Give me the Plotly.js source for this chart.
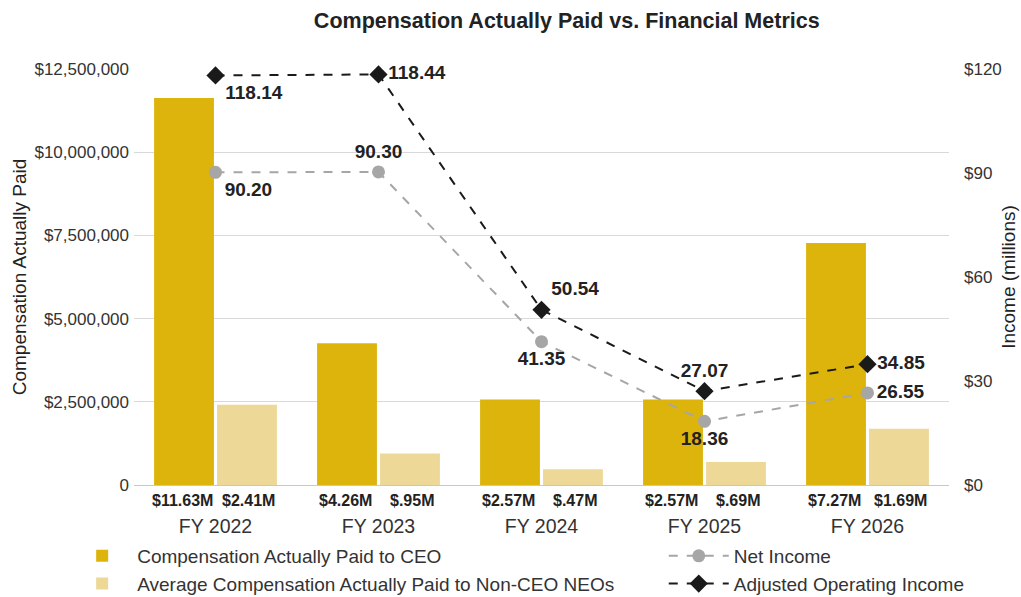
<!DOCTYPE html>
<html>
<head>
<meta charset="utf-8">
<script src="https://cdn.plot.ly/plotly-3.0.1.min.js"></script>
<style>html,body{margin:0;padding:0;background:#fff;}#chart{width:1021px;height:597px;}</style>
</head>
<body>
<div id="chart"></div>
<script>
// ---- data ----
var years = ['FY 2022', 'FY 2023', 'FY 2024', 'FY 2025', 'FY 2026'];
var ceoPay = [11630000, 4260000, 2570000, 2570000, 7270000];
var neoPay = [2410000, 950000, 470000, 690000, 1690000];
var netIncome = [90.20, 90.30, 41.35, 18.36, 26.55];
var adjOpIncome = [118.14, 118.44, 50.54, 27.07, 34.85];
var leftTickVals = [0, 2500000, 5000000, 7500000, 10000000, 12500000];
var leftTickText = ['0', '$2,500,000', '$5,000,000', '$7,500,000', '$10,000,000', '$12,500,000'];
var rightTickVals = [0, 30, 60, 90, 120];
var rightTickText = ['$0', '$30', '$60', '$90', '$120'];

// ---- styling ----
var FONT = 'Liberation Sans, Arial, sans-serif';
var CEO_COLOR = '#DCB40C';
var NEO_COLOR = '#EDD898';

function fmtM(v) {
  var s = (v / 1e6).toFixed(2);
  if (s.charAt(0) === '0') s = s.slice(1);
  return '$' + s + 'M';
}

var traces = [
  {
    type: 'bar', name: 'Compensation Actually Paid to CEO',
    x: years, y: ceoPay, marker: {color: CEO_COLOR},
    legend: 'legend', hoverinfo: 'skip'
  },
  {
    type: 'scatter', mode: 'lines+markers+text', name: 'Net Income',
    x: years, y: netIncome, yaxis: 'y2', legend: 'legend2',
    line: {color: '#A6A6A6', width: 2, dash: 'dash'},
    marker: {symbol: 'circle', size: 13, color: '#A6A6A6'},
    text: netIncome.map(function (v) { return v.toFixed(2); }),
    textposition: ['bottom right', 'top center', 'bottom center', 'bottom center', 'middle right'],
    textfont: {family: FONT, size: 19, color: '#222222', weight: 'bold'},
    cliponaxis: false, hoverinfo: 'skip'
  },
  {
    type: 'bar', name: 'Average Compensation Actually Paid to Non-CEO NEOs',
    x: years, y: neoPay, marker: {color: NEO_COLOR},
    legend: 'legend', hoverinfo: 'skip'
  },
  {
    type: 'scatter', mode: 'lines+markers+text', name: 'Adjusted Operating Income',
    x: years, y: adjOpIncome, yaxis: 'y2', legend: 'legend2',
    line: {color: '#1A1A1A', width: 2, dash: 'dash'},
    marker: {symbol: 'diamond', size: 14, color: '#1A1A1A'},
    text: adjOpIncome.map(function (v) { return v.toFixed(2); }),
    textposition: ['bottom right', 'middle right', 'top right', 'top center', 'middle right'],
    textfont: {family: FONT, size: 19, color: '#222222', weight: 'bold'},
    cliponaxis: false, hoverinfo: 'skip'
  }
];

var annotations = [];
years.forEach(function (yr, i) {
  annotations.push({x: yr, y: 0, xref: 'x', yref: 'y', text: '<b>' + fmtM(ceoPay[i]) + '</b>',
    showarrow: false, xanchor: 'center', yanchor: 'top', xshift: -33, yshift: -5,
    font: {family: FONT, size: 16, color: '#222222'}});
  annotations.push({x: yr, y: 0, xref: 'x', yref: 'y', text: '<b>' + fmtM(neoPay[i]) + '</b>',
    showarrow: false, xanchor: 'center', yanchor: 'top', xshift: 33, yshift: -5,
    font: {family: FONT, size: 16, color: '#222222'}});
});

var layout = {
  width: 1021, height: 597,
  margin: {l: 134, r: 72, t: 69, b: 112, autoexpand: false},
  paper_bgcolor: '#ffffff', plot_bgcolor: '#ffffff',
  font: {family: FONT, color: '#333333'},
  title: {
    text: '<b>Compensation Actually Paid vs. Financial Metrics</b>',
    font: {family: FONT, size: 21.5, color: '#222222'},
    x: 0.531, xref: 'paper', xanchor: 'center', y: 0.965, yref: 'container', yanchor: 'middle'
  },
  barmode: 'group', bargap: 0.227, bargroupgap: 0.05,
  showlegend: true,
  xaxis: {
    type: 'category', showgrid: false, showline: false, zeroline: false,
    ticks: '', ticklabelstandoff: 27,
    tickfont: {family: FONT, size: 19.5, color: '#333333'}
  },
  yaxis: {
    range: [0, 12500000], tickvals: leftTickVals, ticktext: leftTickText,
    showgrid: true, gridcolor: '#D9D9D9', gridwidth: 1,
    zeroline: true, zerolinecolor: '#C8C8C8', zerolinewidth: 1,
    showline: false, ticks: '', ticklabelstandoff: 4,
    tickfont: {family: FONT, size: 17, color: '#333333'},
    title: {text: 'Compensation Actually Paid', font: {family: FONT, size: 19, color: '#222222'}, standoff: 2}
  },
  yaxis2: {
    range: [0, 120], tickvals: rightTickVals, ticktext: rightTickText,
    overlaying: 'y', side: 'right', showgrid: false, zeroline: false, showline: false,
    ticks: '', ticklabelstandoff: 14,
    tickfont: {family: FONT, size: 17, color: '#333333'},
    title: {text: 'Income (millions)', font: {family: FONT, size: 19, color: '#222222'}, standoff: 0}
  },
  legend: {
    x: -0.082, y: -0.125, xanchor: 'left', yanchor: 'top', orientation: 'v',
    font: {family: FONT, size: 19, color: '#333333'}, bgcolor: 'rgba(0,0,0,0)',
    itemwidth: 60, tracegroupgap: 0
  },
  legend2: {
    x: 0.65, y: -0.125, xanchor: 'left', yanchor: 'top', orientation: 'v',
    font: {family: FONT, size: 19, color: '#333333'}, bgcolor: 'rgba(0,0,0,0)',
    itemwidth: 60, tracegroupgap: 0
  },
  annotations: annotations
};

Plotly.newPlot('chart', traces, layout, {displayModeBar: false, staticPlot: true});
</script>
</body>
</html>
